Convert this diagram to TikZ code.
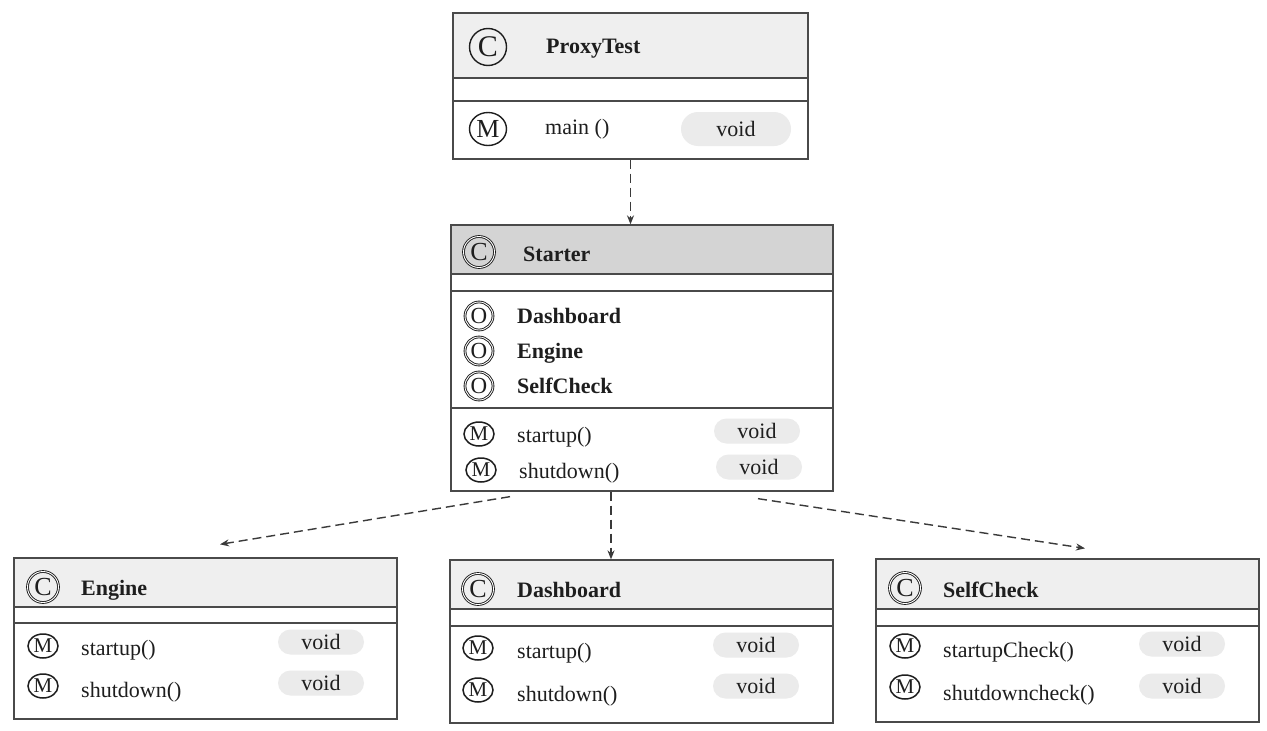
\documentclass[tikz,border=0pt]{standalone}
\usepackage{fontspec}
\setmainfont{Liberation Serif}
\usetikzlibrary{arrows.meta,calc,shapes.geometric}
\definecolor{linec}{HTML}{4A4A4A}
\definecolor{arrc}{HTML}{3A3A3A}
\definecolor{textc}{HTML}{1E1E1E}
\definecolor{hdrA}{HTML}{EFEFEF}
\definecolor{hdrB}{HTML}{D4D4D4}
\definecolor{pillc}{HTML}{EBEBEB}
\tikzset{
  box/.style={draw=linec, line width=1.3pt, inner sep=0pt},
  sepline/.style={draw=linec, line width=1.3pt},
  title/.style={anchor=base west, inner sep=0pt, text=textc, font=\fontsize{22}{26}\selectfont\bfseries},
  txt/.style={anchor=base west, inner sep=0pt, text=textc, font=\fontsize{22}{26}\selectfont},
  symC/.style={circle, draw=textc, line width=0.9pt, double=white, double distance=0.9pt, inner sep=0pt, minimum size=31pt, text=textc, font=\fontsize{26}{26}\selectfont},
  symO/.style={symC, minimum size=28pt, font=\fontsize{23}{23}\selectfont},
  symM/.style={ellipse, draw=textc, line width=1.5pt, inner sep=0pt, minimum width=30pt, minimum height=24pt, text=textc, font=\fontsize{21}{21}\selectfont},
  symCL/.style={circle, draw=textc, line width=1.4pt, inner sep=0pt, minimum size=37pt, text=textc, font=\fontsize{30}{30}\selectfont},
  symML/.style={ellipse, draw=textc, line width=1.4pt, inner sep=0pt, minimum width=37pt, minimum height=33pt, text=textc, font=\fontsize{26}{26}\selectfont},
  pill/.style={fill=pillc, rounded corners=12.5pt, inner sep=0pt, minimum width=86pt, minimum height=25pt, text=textc, font=\fontsize{22}{26}\selectfont},
  pillL/.style={pill, rounded corners=17pt, minimum width=110pt, minimum height=34pt},
  dep/.style={draw=arrc, line width=1.4pt, dash pattern=on 9pt off 5pt, -{Stealth[length=9pt,width=7pt]}}
}
\begin{document}
\begin{tikzpicture}[x=1pt,y=-1pt]
\useasboundingbox (0,0) rectangle (1267,731);
\fill[white] (0,0) rectangle (1267,731);

% ---------- ProxyTest ----------
\fill[hdrA] (453,13) rectangle (808,78);
\node[box, minimum width=355pt, minimum height=146pt] (proxy) at (630.5,86) {};
\draw[sepline] (453,78) -- (808,78) (453,101) -- (808,101);
\node[symCL] (proxyC) at (488,47) {C};
\node[title] (proxyT) at (546,53) {ProxyTest};
\node[symML] (proxyM) at (488,129) {M};
\node[txt] (proxyMain) at (545,134) {main ()};
\node[pillL] (proxyV) at (736,129) {void};

% ---------- Starter ----------
\fill[hdrB] (451,225) rectangle (833,274);
\node[box, minimum width=382pt, minimum height=266pt] (starter) at (642,358) {};
\draw[sepline] (451,274) -- (833,274) (451,291) -- (833,291) (451,408) -- (833,408);
\node[symC] (stC) at (479,252) {C};
\node[title] (stT) at (523,261) {Starter};
\node[symO] (stO1) at (479,316) {O};
\node[title] (stF1) at (517,323) {Dashboard};
\node[symO] (stO2) at (479,351) {O};
\node[title] (stF2) at (517,358) {Engine};
\node[symO] (stO3) at (479,386) {O};
\node[title] (stF3) at (517,393) {SelfCheck};
\node[symM] (stM1) at (479,434) {M};
\node[txt] (stS1) at (517,442) {startup()};
\node[pill] (stV1) at (757,431) {void};
\node[symM] (stM2) at (481,470) {M};
\node[txt] (stS2) at (519,478) {shutdown()};
\node[pill] (stV2) at (759,467) {void};

% ---------- Engine ----------
\fill[hdrA] (14,558) rectangle (397,607);
\node[box, minimum width=383pt, minimum height=161pt] (engine) at (205.5,638.5) {};
\draw[sepline] (14,607) -- (397,607) (14,623) -- (397,623);
\node[symC] (enC) at (43,587) {C};
\node[title] (enT) at (81,595) {Engine};
\node[symM] (enM1) at (43,646) {M};
\node[txt] (enS1) at (81,655) {startup()};
\node[pill] (enV1) at (321,642) {void};
\node[symM] (enM2) at (43,686) {M};
\node[txt] (enS2) at (81,697) {shutdown()};
\node[pill] (enV2) at (321,683) {void};

% ---------- Dashboard ----------
\fill[hdrA] (450,560) rectangle (833,609);
\node[box, minimum width=383pt, minimum height=163pt] (dash) at (641.5,641.5) {};
\draw[sepline] (450,609) -- (833,609) (450,626) -- (833,626);
\node[symC] (daC) at (478,589) {C};
\node[title] (daT) at (517,597) {Dashboard};
\node[symM] (daM1) at (478,648) {M};
\node[txt] (daS1) at (517,658) {startup()};
\node[pill] (daV1) at (756,645) {void};
\node[symM] (daM2) at (478,690) {M};
\node[txt] (daS2) at (517,701) {shutdown()};
\node[pill] (daV2) at (756,686) {void};

% ---------- SelfCheck ----------
\fill[hdrA] (876,559) rectangle (1259,609);
\node[box, minimum width=383pt, minimum height=163pt] (selfc) at (1067.5,640.5) {};
\draw[sepline] (876,609) -- (1259,609) (876,626) -- (1259,626);
\node[symC] (scC) at (905,588) {C};
\node[title] (scT) at (943,597) {SelfCheck};
\node[symM] (scM1) at (905,646) {M};
\node[txt] (scS1) at (943,657) {startupCheck()};
\node[pill] (scV1) at (1182,644) {void};
\node[symM] (scM2) at (905,687) {M};
\node[txt] (scS2) at (943,700) {shutdowncheck()};
\node[pill] (scV2) at (1182,686) {void};

% ---------- connectors ----------
\draw[dep] (proxy.south) -- (proxy.south |- starter.north);
\draw[dep] ([xshift=-31pt]starter.south) -- ([xshift=-31pt]starter.south |- dash.north);
\draw[dep] ([xshift=-132pt,yshift=-5pt]starter.south) -- ([xshift=14.5pt,yshift=13pt]engine.north);
\draw[dep] ([xshift=116pt,yshift=-7pt]starter.south) -- ([xshift=17.5pt,yshift=10pt]selfc.north);
\end{tikzpicture}
\end{document}
